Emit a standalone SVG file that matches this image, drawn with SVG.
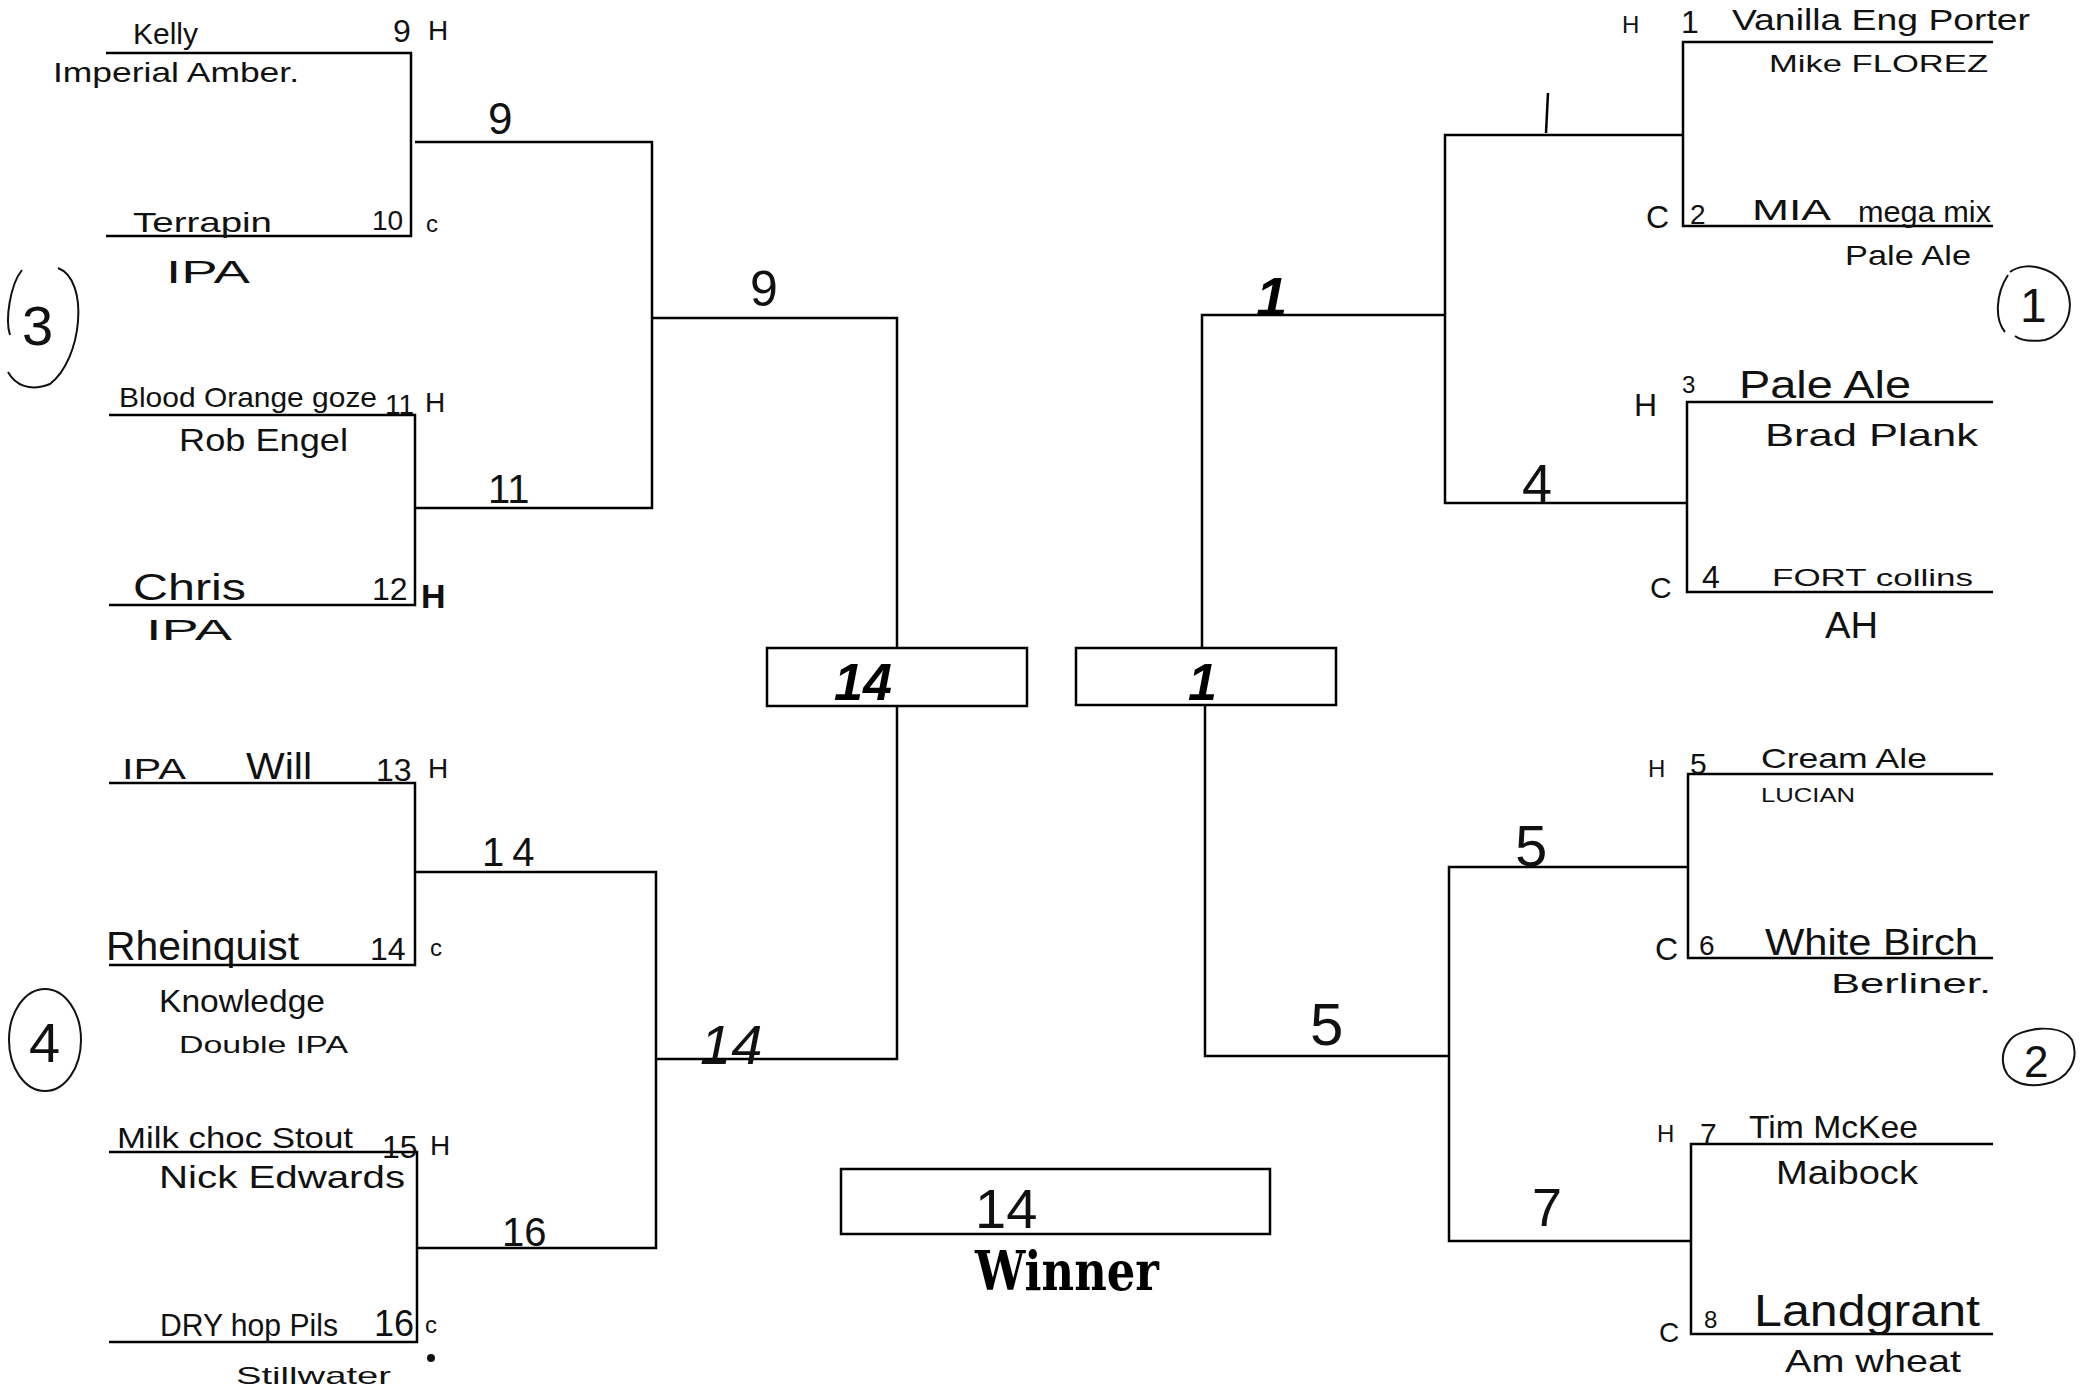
<svg xmlns="http://www.w3.org/2000/svg" width="2081" height="1397" viewBox="0 0 2081 1397">
<style>
.ln{stroke:#000;stroke-width:2.5;fill:none}
.bx{stroke:#000;stroke-width:2.5;fill:#fff}
.hw{font-family:"Liberation Sans","DejaVu Sans",sans-serif;fill:#111;font-size:28px}
.sm{font-size:24px}
.bd{font-family:"Liberation Sans",sans-serif;font-weight:bold;font-style:italic;font-size:48px;fill:#000}
.win{font-family:"DejaVu Serif","Liberation Serif",serif;font-weight:bold;font-size:50px;fill:#000}
.cir{stroke:#111;stroke-width:2;fill:none}
</style>
<rect width="2081" height="1397" fill="#fff"/>
<g id="connectors">
<path class="ln" d="M106,53 H411 V236 H106"/>
<path class="ln" d="M415,142 H652 V508 H415"/>
<path class="ln" d="M109,415 H415 V605 H109"/>
<path class="ln" d="M652,318 H897 V648"/>
<path class="ln" d="M897,706 V1059 H656"/>
<path class="ln" d="M109,783 H415 V965 H109"/>
<path class="ln" d="M415,872 H656 V1248 H417"/>
<path class="ln" d="M109,1152 H417 V1342 H109"/>
<path class="ln" d="M1993,42 H1683 V226 H1993"/>
<path class="ln" d="M1683,135 H1445 V503 H1687"/>
<path class="ln" d="M1993,402 H1687 V592 H1993"/>
<path class="ln" d="M1445,315 H1202 V648"/>
<path class="ln" d="M1205,705 V1056 H1449"/>
<path class="ln" d="M1993,774 H1688 V958 H1993"/>
<path class="ln" d="M1688,867 H1449 V1241 H1691"/>
<path class="ln" d="M1993,1144 H1691 V1334 H1993"/>
</g>
<g id="team9">
<text class="hw" x="133" y="44" style="font-size:30px">Kelly</text>
<text class="hw" x="53" y="82" textLength="246" lengthAdjust="spacingAndGlyphs">Imperial Amber.</text>
<text class="hw" x="393" y="42" style="font-size:32px">9</text>
<text class="hw" x="428" y="40">H</text>
</g>
<g id="team10">
<text class="hw" x="133" y="232" textLength="139" lengthAdjust="spacingAndGlyphs">Terrapin</text>
<text class="hw" x="372" y="230">10</text>
<text class="hw sm" x="426" y="232">c</text>
<text class="hw" x="166" y="283" style="font-size:32px" textLength="84" lengthAdjust="spacingAndGlyphs">IPA</text>
</g>
<g id="team11">
<text class="hw" x="119" y="407" textLength="258" lengthAdjust="spacingAndGlyphs">Blood Orange goze</text>
<text class="hw" x="385" y="414">11</text>
<text class="hw" x="425" y="412">H</text>
<text class="hw" x="179" y="451" style="font-size:32px" textLength="169" lengthAdjust="spacingAndGlyphs">Rob Engel</text>
</g>
<g id="team12">
<text class="hw" x="133" y="600" style="font-size:36px" textLength="113" lengthAdjust="spacingAndGlyphs">Chris</text>
<text class="hw" x="372" y="600" style="font-size:32px">12</text>
<text class="hw" x="421" y="608" style="font-size:34px;font-weight:bold">H</text>
<text class="hw" x="146" y="640" style="font-size:30px" textLength="86" lengthAdjust="spacingAndGlyphs">IPA</text>
</g>
<g id="seed3">
<path class="cir" d="M58,268 C90,280 82,360 50,384 C30,392 15,385 8,372 M22,270 C10,285 5,320 10,335"/>
<text class="hw" x="22" y="345" style="font-size:56px">3</text>
</g>
<g id="r2-9"><text class="hw" x="488" y="134" style="font-size:44px">9</text></g>
<g id="r2-11"><text class="hw" x="488" y="503" style="font-size:40px">11</text></g>
<g id="r3-9"><text class="hw" x="750" y="306" style="font-size:50px">9</text></g>
<g id="semi-left">
<rect class="bx" x="767" y="648" width="260" height="58"/>
<text class="bd" x="834" y="700" style="font-size:52px">14</text>
</g>
<g id="team13">
<text class="hw" x="122" y="779" style="font-size:30px" textLength="64" lengthAdjust="spacingAndGlyphs">IPA</text>
<text class="hw" x="246" y="779" style="font-size:36px" textLength="66" lengthAdjust="spacingAndGlyphs">Will</text>
<text class="hw" x="376" y="781" style="font-size:32px">13</text>
<text class="hw" x="428" y="778">H</text>
</g>
<g id="team14">
<text class="hw" x="106" y="960" style="font-size:40px" textLength="193" lengthAdjust="spacingAndGlyphs">Rheinquist</text>
<text class="hw" x="370" y="960" style="font-size:32px">14</text>
<text class="hw sm" x="430" y="956">c</text>
<text class="hw" x="159" y="1012" style="font-size:32px" textLength="166" lengthAdjust="spacingAndGlyphs">Knowledge</text>
<text class="hw sm" x="179" y="1053" textLength="169" lengthAdjust="spacingAndGlyphs">Double IPA</text>
</g>
<g id="seed4">
<ellipse class="cir" cx="45" cy="1040" rx="36" ry="51"/>
<text class="hw" x="29" y="1062" style="font-size:56px">4</text>
</g>
<g id="r2-14"><text class="hw" x="482" y="866" style="font-size:40px" letter-spacing="8">14</text></g>
<g id="r3-14"><text class="hw" x="700" y="1064" style="font-size:56px;font-style:italic">14</text></g>
<g id="team15">
<text class="hw" x="117" y="1148" style="font-size:30px" textLength="236" lengthAdjust="spacingAndGlyphs">Milk choc Stout</text>
<text class="hw" x="382" y="1158" style="font-size:32px">15</text>
<text class="hw" x="430" y="1155">H</text>
<text class="hw" x="159" y="1188" style="font-size:32px" textLength="246" lengthAdjust="spacingAndGlyphs">Nick Edwards</text>
</g>
<g id="team16">
<text class="hw" x="160" y="1336" style="font-size:32px" textLength="178" lengthAdjust="spacingAndGlyphs">DRY hop Pils</text>
<text class="hw" x="374" y="1336" style="font-size:36px">16</text>
<text class="hw sm" x="425" y="1333">c</text>
<circle cx="431" cy="1358" r="4" fill="#111"/>
<text class="hw sm" x="236" y="1384" textLength="155" lengthAdjust="spacingAndGlyphs">Stillwater</text>
</g>
<g id="r2-16"><text class="hw" x="502" y="1246" style="font-size:40px">16</text></g>
<g id="team1">
<text class="hw sm" x="1622" y="33">H</text>
<text class="hw" x="1681" y="33" style="font-size:32px">1</text>
<text class="hw" x="1732" y="30" style="font-size:30px" textLength="298" lengthAdjust="spacingAndGlyphs">Vanilla Eng Porter</text>
<text class="hw sm" x="1769" y="72" textLength="219" lengthAdjust="spacingAndGlyphs">Mike FLOREZ</text>
</g>
<g id="team2">
<text class="hw" x="1646" y="228" style="font-size:32px">C</text>
<text class="hw" x="1690" y="224">2</text>
<text class="hw" x="1752" y="220" style="font-size:30px" textLength="79" lengthAdjust="spacingAndGlyphs">MIA</text>
<text class="hw" x="1858" y="222" style="font-size:30px" textLength="133" lengthAdjust="spacingAndGlyphs">mega mix</text>
<text class="hw" x="1845" y="265" textLength="126" lengthAdjust="spacingAndGlyphs">Pale Ale</text>
</g>
<g id="seed1">
<path class="cir" d="M2040,268 C2080,278 2078,330 2045,340 C2030,342 2020,340 2015,336 M2008,275 C1995,295 1995,320 2005,332 M2010,272 C2018,266 2030,265 2040,268"/>
<text class="hw" x="2020" y="322" style="font-size:48px">1</text>
</g>
<g id="r2-1"><path class="ln" d="M1548,93 L1546,133" stroke-width="4"/></g>
<g id="r3-1"><text class="bd" x="1256" y="316" style="font-size:56px">1</text></g>
<g id="team3">
<text class="hw" x="1634" y="416" style="font-size:32px">H</text>
<text class="hw sm" x="1682" y="393">3</text>
<text class="hw" x="1739" y="398" style="font-size:38px" textLength="172" lengthAdjust="spacingAndGlyphs">Pale Ale</text>
<text class="hw" x="1765" y="446" style="font-size:32px" textLength="213" lengthAdjust="spacingAndGlyphs">Brad Plank</text>
</g>
<g id="team4">
<text class="hw" x="1650" y="598" style="font-size:30px">C</text>
<text class="hw" x="1702" y="588" style="font-size:32px">4</text>
<text class="hw sm" x="1772" y="586" textLength="201" lengthAdjust="spacingAndGlyphs">FORT collins</text>
<text class="hw" x="1825" y="638" style="font-size:36px" textLength="53" lengthAdjust="spacingAndGlyphs">AH</text>
</g>
<g id="r2-4"><text class="hw" x="1522" y="502" style="font-size:54px">4</text></g>
<g id="semi-right">
<rect class="bx" x="1076" y="648" width="260" height="57"/>
<text class="bd" x="1188" y="700" style="font-size:52px">1</text>
</g>
<g id="team5">
<text class="hw sm" x="1648" y="777">H</text>
<text class="hw" x="1690" y="774" style="font-size:30px">5</text>
<text class="hw" x="1761" y="768" textLength="166" lengthAdjust="spacingAndGlyphs">Cream Ale</text>
<text class="hw" x="1761" y="802" style="font-size:20px" textLength="94" lengthAdjust="spacingAndGlyphs">LUCIAN</text>
</g>
<g id="team6">
<text class="hw" x="1655" y="960" style="font-size:32px">C</text>
<text class="hw" x="1699" y="955">6</text>
<text class="hw" x="1765" y="955" style="font-size:36px" textLength="213" lengthAdjust="spacingAndGlyphs">White Birch</text>
<text class="hw" x="1831" y="993" textLength="160" lengthAdjust="spacingAndGlyphs">Berliner.</text>
</g>
<g id="seed2">
<path class="cir" d="M2010,1040 C2020,1028 2060,1022 2072,1040 C2080,1060 2068,1080 2045,1084 C2025,1088 2005,1082 2003,1062 C2002,1052 2005,1046 2010,1040"/>
<text class="hw" x="2024" y="1077" style="font-size:44px">2</text>
</g>
<g id="r2-5"><text class="hw" x="1515" y="866" style="font-size:58px">5</text></g>
<g id="r3-5"><text class="hw" x="1310" y="1045" style="font-size:60px">5</text></g>
<g id="team7">
<text class="hw sm" x="1657" y="1142">H</text>
<text class="hw" x="1700" y="1144" style="font-size:30px">7</text>
<text class="hw" x="1749" y="1138" style="font-size:32px" textLength="169" lengthAdjust="spacingAndGlyphs">Tim McKee</text>
<text class="hw" x="1776" y="1184" style="font-size:34px" textLength="142" lengthAdjust="spacingAndGlyphs">Maibock</text>
</g>
<g id="team8">
<text class="hw" x="1659" y="1342">C</text>
<text class="hw sm" x="1704" y="1328">8</text>
<text class="hw" x="1754" y="1326" style="font-size:44px" textLength="226" lengthAdjust="spacingAndGlyphs">Landgrant</text>
<text class="hw" x="1785" y="1372" style="font-size:32px" textLength="176" lengthAdjust="spacingAndGlyphs">Am wheat</text>
</g>
<g id="r2-7"><text class="hw" x="1532" y="1226" style="font-size:54px">7</text></g>
<g id="winner">
<rect class="bx" x="841" y="1169" width="429" height="65"/>
<text class="hw" x="975" y="1228" style="font-size:56px">14</text>
<text class="win" x="975" y="1290" style="font-size:54px" textLength="184" lengthAdjust="spacingAndGlyphs">Winner</text>
</g>
</svg>
